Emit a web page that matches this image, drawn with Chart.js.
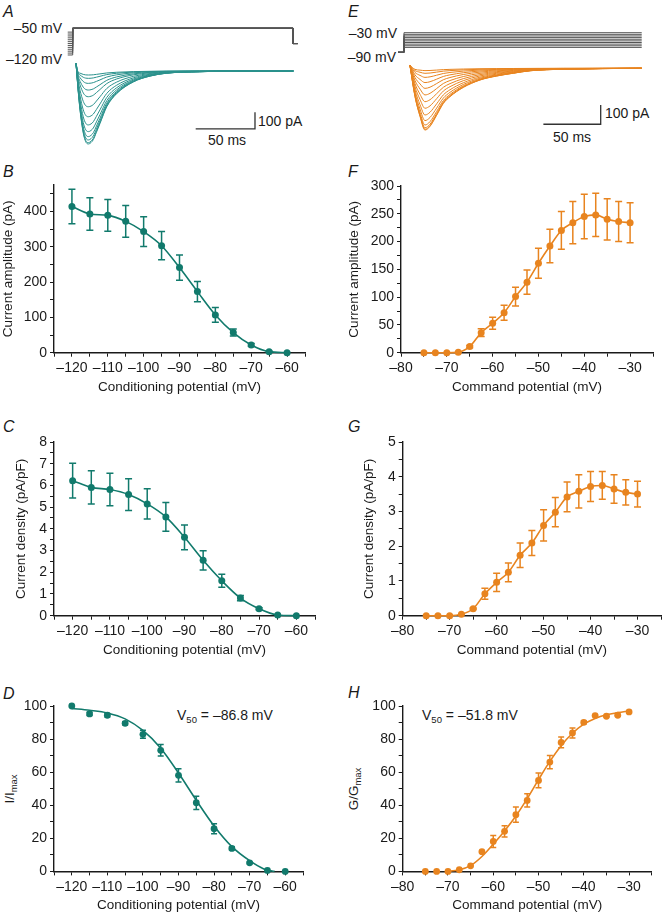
<!DOCTYPE html>
<html>
<head>
<meta charset="utf-8">
<script src="https://cdn.jsdelivr.net/npm/chart.js@4.4.1/dist/chart.umd.min.js"></script>
<style>
  body { margin: 0; background: #fff; width: 665px; height: 915px; position: relative; overflow: hidden;
         font-family: "Liberation Sans", Arial, sans-serif; color: #1a1a1a; }
  canvas { position: absolute; }
  .lbl { position: absolute; font-size: 14px; white-space: nowrap; line-height: 1; transform: translateY(-50%); }
  .lbl sub { font-size: 9.5px; vertical-align: -3px; }
  .letter { position: absolute; font-size: 16px; font-style: italic; line-height: 1; }
  .ytitle { position: absolute; font-size: 13.5px; white-space: nowrap; line-height: 1;
            transform: translate(-50%, -50%) rotate(-90deg); }
  .ytitle sub { font-size: 9.5px; vertical-align: -3px; }
</style>
</head>
<body>

<div class="letter" style="left:3px;top:4px">A</div>
<div class="letter" style="left:348px;top:4px">E</div>
<div class="letter" style="left:3px;top:164px">B</div>
<div class="letter" style="left:348px;top:164px">F</div>
<div class="letter" style="left:3px;top:419px">C</div>
<div class="letter" style="left:348px;top:419px">G</div>
<div class="letter" style="left:3px;top:686px">D</div>
<div class="letter" style="left:348px;top:685px">H</div>

<div class="lbl" style="right:603px;top:28px">–50 mV</div>
<div class="lbl" style="right:603px;top:59px">–120 mV</div>
<div class="lbl" style="left:258px;top:121px">100 pA</div>
<div class="lbl" style="left:208px;top:140px">50 ms</div>

<div class="lbl" style="right:268px;top:33px">–30 mV</div>
<div class="lbl" style="right:269px;top:57px">–90 mV</div>
<div class="lbl" style="left:605px;top:113px">100 pA</div>
<div class="lbl" style="left:553px;top:137px">50 ms</div>

<div class="lbl" style="left:177px;top:716px">V<sub>50</sub> = –86.8 mV</div>
<div class="lbl" style="left:422px;top:716px">V<sub>50</sub> = –51.8 mV</div>

<div class="ytitle" style="left:11px;top:789px">I/I<sub>max</sub></div>
<div class="ytitle" style="left:355px;top:789px">G/G<sub>max</sub></div>

<canvas id="chartA"></canvas>
<canvas id="chartE"></canvas>
<canvas id="chartB"></canvas>
<canvas id="chartC"></canvas>
<canvas id="chartD"></canvas>
<canvas id="chartF"></canvas>
<canvas id="chartG"></canvas>
<canvas id="chartH"></canvas>

<script>
// ---- 数据 ----
// 失活：条件电位 (mV)
const condV = [-120, -115, -110, -105, -100, -95, -90, -85, -80, -75, -70, -65, -60];
const ampB = [414, 393, 389, 372, 343, 303, 241, 173, 107, 57, 22, 3, 0];
const ampBErr = [49, 46, 45, 45, 42, 40, 36, 29, 21, 10, 4, 1, 0];
const densC = [6.22, 5.91, 5.81, 5.58, 5.15, 4.55, 3.61, 2.55, 1.61, 0.81, 0.32, 0.03, 0];
const densCErr = [0.8, 0.77, 0.75, 0.73, 0.7, 0.66, 0.57, 0.44, 0.3, 0.12, 0.05, 0, 0];
const normD = [100, 95.2, 94.4, 89.5, 82.9, 73.2, 58.1, 41.5, 25.8, 13.9, 5.2, 0.6, 0];
const normDErr = [0, 1, 1, 1, 2.4, 3.5, 4, 4, 3, 1, 0.5, 0, 0];
// D 拟合曲线（读取曲线上的点）
const fitDV = [-120, -115, -110, -105, -100, -95, -90, -85, -80, -75, -70, -66, -63];
const fitD = [98.5, 97.4, 95.8, 92.2, 85.2, 74.5, 59.5, 43, 27.5, 15, 6.5, 1.5, 0];

// 激活：命令电位 (mV)
const cmdV = [-75, -72.5, -70, -67.5, -65, -62.5, -60, -57.5, -55, -52.5, -50, -47.5, -45, -42.5, -40, -37.5, -35, -32.5, -30];
const ampF = [0, 0, 0, 1, 11, 36, 53, 72, 101, 127, 161, 192, 220, 234, 245, 248, 240, 236, 234];
const ampFErr = [0, 0, 0, 0, 2, 7, 11, 13.5, 17, 22, 27, 30, 34, 38, 40, 39, 37, 36, 36];
const densG = [0, 0, 0, 0.04, 0.2, 0.63, 0.96, 1.25, 1.74, 2.09, 2.6, 2.98, 3.42, 3.58, 3.72, 3.75, 3.65, 3.55, 3.5];
const densGErr = [0, 0, 0, 0, 0.02, 0.16, 0.26, 0.27, 0.35, 0.36, 0.45, 0.42, 0.43, 0.48, 0.43, 0.4, 0.41, 0.36, 0.37];
const normH = [0, 0, 0, 1, 3.4, 11.9, 18.1, 24.2, 34.3, 42.9, 55, 66.1, 78, 83.7, 90.1, 94.2, 93.8, 94.4, 96.4];
const normHErr = [0, 0, 0, 0, 0, 0.5, 3.6, 3.4, 4.6, 4, 4.5, 4, 3.3, 3, 1, 0.5, 0.5, 0.5, 0.5];
const fitHV = [-70.5, -67.5, -65, -62.5, -60, -57.5, -55, -52.5, -50, -47.5, -45, -42.5, -40, -37.5, -35, -32.5, -30];
const fitH = [0, 1, 3.5, 9, 16.5, 24.5, 33.5, 44, 55.5, 66.5, 76, 83.5, 89, 92.5, 94.7, 96, 97];

// A：电流记录（时间 ms，波形按最大迹线读取，峰值 pA）
const traceAT = [2.8, 4.5, 6.2, 8.9, 11, 13.2, 15.5, 17.4, 20, 23, 28.7, 37.1, 51.1, 65.2, 79.3, 107, 140, 186];
const traceAShape = [0, -0.25, -0.54, -0.85, -0.97, -1, -0.98, -0.94, -0.84, -0.72, -0.49, -0.31, -0.15, -0.07, -0.03, -0.01, 0, 0];
const traceAStart = 45;
const peakA = [24, 44, 74, 114, 154, 214, 274, 323, 363, 393, 413, 429, 437];
const protoATimes = [-4.2, 0, 185.8, 189.7];
const protoATest = -50, protoAEnd = -90;

// E：电流记录
const traceET = [5.2, 9.6, 14, 18.3, 22.7, 28.5, 34.3, 40.1, 51.7, 66.3, 80.9, 95.4, 110, 139, 207.4];
const traceEShape = [0, -0.46, -0.78, -1, -0.94, -0.76, -0.57, -0.46, -0.31, -0.19, -0.125, -0.08, -0.04, -0.015, 0];
const traceEStart = 15;
const peakE = [12, 26, 47, 74, 104, 138, 173, 207, 242, 271, 294, 308, 316, 320];
const protoEV = [-75, -70, -65, -60, -55, -50, -45, -40, -35, -30];
const protoETimes = [-5.2, 0, 207.4];
const protoEHold = -90;

// 标尺
const barMs = 50, barPA = 100;

const INK = '#1a1a1a';
const GREEN = '#117a6c';
const TEAL = '#2a918c';
const ORANGE = '#e8841f';

Chart.defaults.font.family = '"Liberation Sans", Arial, sans-serif';
Chart.defaults.font.size = 14;
Chart.defaults.color = INK;
const TITLE_FONT = { size: 13.5 };

const dash = v => String(v).replace('-', '\u2013');
const xy = (xs, ys) => xs.map((x, i) => ({ x: x, y: ys[i] }));

// 误差线插件
const errorBars = {
    id: 'errorBars',
    afterDatasetsDraw(chart) {
        const ctx = chart.ctx;
        chart.data.datasets.forEach((ds, i) => {
            if (!ds.errors) return;
            const meta = chart.getDatasetMeta(i);
            const ys = chart.scales[meta.yAxisID];
            ctx.save();
            ctx.strokeStyle = ds.borderColor;
            ctx.lineWidth = 1.5;
            meta.data.forEach((pt, j) => {
                const e = ds.errors[j];
                if (!e) return;
                const v = ds.data[j].y;
                const y1 = ys.getPixelForValue(v + e);
                const y2 = ys.getPixelForValue(v - e);
                const w = ds.capHalf || 3.5;
                ctx.beginPath();
                ctx.moveTo(pt.x, y1); ctx.lineTo(pt.x, y2);
                ctx.moveTo(pt.x - w, y1); ctx.lineTo(pt.x + w, y1);
                ctx.moveTo(pt.x - w, y2); ctx.lineTo(pt.x + w, y2);
                ctx.stroke();
            });
            ctx.restore();
        });
    }
};

function setCanvas(id, x, y, w, h) {
    const c = document.getElementById(id);
    c.width = w; c.height = h;
    c.style.left = x + 'px'; c.style.top = y + 'px';
    return c;
}

/**
 * 带坐标轴的面板
 */
function axisPanel(id, cv, area, xs, ys, datasets) {
    const padTop = 15;
    const top = area.t - padTop;
    const xH = 43;
    const h = Math.round(area.b + xH - top);
    const c = setCanvas(id, cv.x, top, cv.w, h);
    const xAxisH = top + h - area.b;
    return new Chart(c, {
        type: 'line',
        data: { datasets },
        options: {
            responsive: false,
            animation: false,
            layout: { padding: { left: 0, top: padTop, right: cv.x + cv.w - area.r, bottom: 0 } },
            plugins: { legend: { display: false }, tooltip: { enabled: false } },
            scales: {
                x: {
                    type: 'linear', min: xs.min, max: xs.max,
                    afterFit: s => { s.height = xAxisH; },
                    border: { color: INK, width: 1.4 },
                    grid: { drawOnChartArea: false, color: INK, tickLength: 4, tickWidth: 1 },
                    ticks: {
                        stepSize: 5, autoSkip: false, maxRotation: 0, includeBounds: false, padding: 3,
                        callback: v => (v % 10 === 0 ? dash(v) : '')
                    },
                    title: { display: true, text: xs.title, font: TITLE_FONT, padding: { top: 0, bottom: 1 } }
                },
                y: {
                    type: 'linear', min: 0, max: ys.max,
                    afterFit: s => { s.width = area.l - cv.x; },
                    border: { color: INK, width: 1.4 },
                    grid: { drawOnChartArea: false, color: INK, tickLength: 4, tickWidth: 1 },
                    ticks: {
                        stepSize: ys.step, autoSkip: false, includeBounds: false, padding: 3,
                        callback: v => (Math.abs(v / ys.label - Math.round(v / ys.label)) < 1e-6 ? String(v) : '')
                    },
                    title: {
                        display: !!ys.title, text: ys.title || '', font: TITLE_FONT,
                        padding: { top: Math.max(0, ys.titleX - cv.x - 8.1), bottom: 0 }
                    }
                }
            }
        },
        plugins: [errorBars]
    });
}

function meanSeries(xsArr, ysArr, errs, color) {
    return {
        data: xy(xsArr, ysArr), errors: errs, clip: false,
        borderColor: color, backgroundColor: color, borderWidth: 1.6,
        pointRadius: 3.5, pointBorderWidth: 0, cubicInterpolationMode: 'monotone'
    };
}
function pointsOnly(xsArr, ysArr, errs, color) {
    return {
        data: xy(xsArr, ysArr), errors: errs, capHalf: 3, clip: false,
        borderColor: color, backgroundColor: color, showLine: false,
        pointRadius: 3.4, pointBorderWidth: 0
    };
}
function fitLine(xsArr, ysArr, color) {
    return {
        data: xy(xsArr, ysArr), borderColor: color, borderWidth: 1.6, clip: false,
        pointRadius: 0, cubicInterpolationMode: 'monotone'
    };
}

/**
 * 电流记录面板（隐藏坐标轴）
 */
function tracePanel(id, cv, xr, yr, vr, datasets) {
    const c = setCanvas(id, cv.x, cv.y, cv.w, cv.h);
    return new Chart(c, {
        type: 'line',
        data: { datasets },
        options: {
            responsive: false,
            animation: false,
            layout: { padding: 0 },
            plugins: { legend: { display: false }, tooltip: { enabled: false } },
            elements: { point: { radius: 0 }, line: { borderWidth: 1 } },
            scales: {
                x: { type: 'linear', display: false, min: xr[0], max: xr[1] },
                y: { type: 'linear', display: false, min: yr[0], max: yr[1] },
                yv: { type: 'linear', display: false, min: vr[0], max: vr[1] }
            }
        }
    });
}

// ---- A ----
const protoA = condV.map(v => ({
    data: [
        { x: protoATimes[0], y: v }, { x: protoATimes[1], y: v },
        { x: protoATimes[1], y: protoATest }, { x: protoATimes[2], y: protoATest },
        { x: protoATimes[2], y: protoAEnd }, { x: protoATimes[3], y: protoAEnd }
    ],
    yAxisID: 'yv', borderColor: '#555', borderWidth: 1
}));
const tracesA = peakA.map(p => ({
    data: traceAT.map((t, i) => ({ x: t, y: i === 0 ? traceAStart : traceAShape[i] * p })),
    borderColor: TEAL, borderWidth: 1, cubicInterpolationMode: 'monotone'
}));
const barA = { t0: 103.7, y0: -347 };
const scaleA = {
    data: [{ x: barA.t0, y: barA.y0 }, { x: barA.t0 + barMs, y: barA.y0 }, { x: barA.t0 + barMs, y: barA.y0 + barPA }],
    borderColor: '#333', borderWidth: 1.3
};
tracePanel('chartA', { x: 60, y: 20, w: 240, h: 130 }, [-10.71, 191.65], [-473, 305.4], [-369.1, -28.24],
    [...protoA, ...tracesA, scaleA]);

// ---- E ----
const protoE = protoEV.map(v => ({
    data: [
        { x: protoETimes[0], y: protoEHold }, { x: protoETimes[1], y: protoEHold },
        { x: protoETimes[1], y: v }, { x: protoETimes[2], y: v }
    ],
    yAxisID: 'yv', borderColor: '#555', borderWidth: 1
}));
const tracesE = peakE.map(p => ({
    data: traceET.map((t, i) => ({ x: t, y: i === 0 ? traceEStart : traceEShape[i] * p })),
    borderColor: ORANGE, borderWidth: 1, cubicInterpolationMode: 'monotone'
}));
const barE = { t0: 121.6, y0: -290 };
const scaleE = {
    data: [{ x: barE.t0, y: barE.y0 }, { x: barE.t0 + barMs, y: barE.y0 }, { x: barE.t0 + barMs, y: barE.y0 + barPA }],
    borderColor: '#333', borderWidth: 1.3
};
tracePanel('chartE', { x: 395, y: 20, w: 270, h: 125 }, [-7.85, 227.7], [-397.4, 250.3], [-373.7, 8.87],
    [...protoE, ...tracesE, scaleE]);

// ---- B, C, D ----
const condAxis = { min: -125, max: -55, title: 'Conditioning potential (mV)' };
axisPanel('chartB', { x: 0, w: 330 }, { l: 54, r: 305, t: 185, b: 352.7 }, condAxis,
    { max: 475, step: 50, label: 100, title: 'Current amplitude (pA)', titleX: 8 },
    [meanSeries(condV, ampB, ampBErr, GREEN)]);
axisPanel('chartC', { x: 0, w: 330 }, { l: 54, r: 315, t: 442.3, b: 616 }, condAxis,
    { max: 8, step: 0.5, label: 1, title: 'Current density (pA/pF)', titleX: 21.7 },
    [meanSeries(condV, densC, densCErr, GREEN)]);
axisPanel('chartD', { x: 0, w: 330 }, { l: 54, r: 303, t: 706.3, b: 871.7 }, condAxis,
    { max: 100, step: 10, label: 20, title: '', titleX: 11 },
    [fitLine(fitDV, fitD, GREEN), pointsOnly(condV, normD, normDErr, GREEN)]);

// ---- F, G, H ----
const cmdAxis = { min: -80, max: -25, title: 'Command potential (mV)' };
axisPanel('chartF', { x: 335, w: 330 }, { l: 401, r: 653, t: 186, b: 352.7 }, cmdAxis,
    { max: 300, step: 25, label: 50, title: 'Current amplitude (pA)', titleX: 354 },
    [meanSeries(cmdV, ampF, ampFErr, ORANGE)]);
axisPanel('chartG', { x: 335, w: 330 }, { l: 402.7, r: 663, t: 442.3, b: 616 }, cmdAxis,
    { max: 5, step: 0.5, label: 1, title: 'Current density (pA/pF)', titleX: 369 },
    [meanSeries(cmdV, densG, densGErr, ORANGE)]);
axisPanel('chartH', { x: 335, w: 330 }, { l: 402.7, r: 651.7, t: 706.3, b: 871.7 }, cmdAxis,
    { max: 100, step: 10, label: 20, title: '', titleX: 355 },
    [fitLine(fitHV, fitH, ORANGE), pointsOnly(cmdV, normH, normHErr, ORANGE)]);
</script>
</body>
</html>
